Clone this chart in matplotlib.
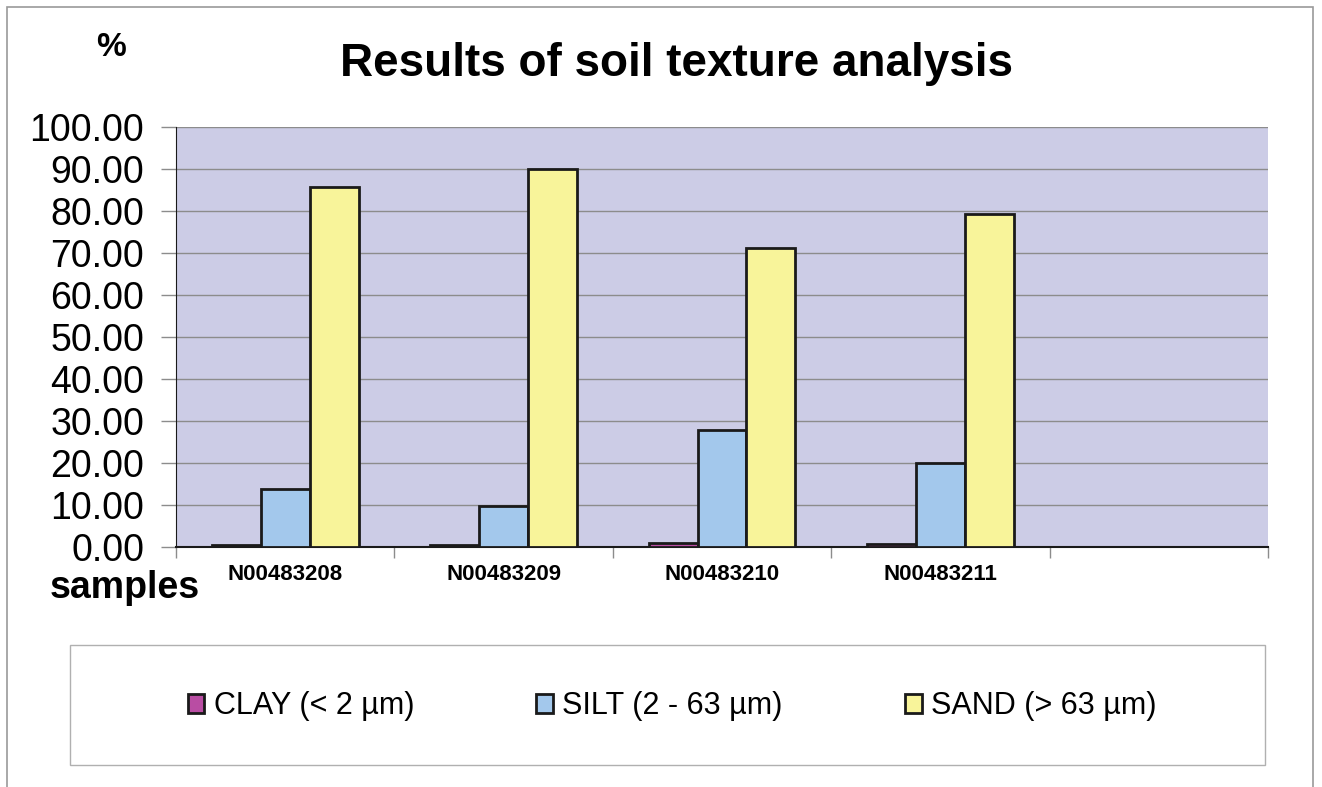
import matplotlib.pyplot as plt
from matplotlib.patches import Rectangle
import numpy as np

plt.rcParams['font.family'] = ['Liberation Sans', 'DejaVu Sans']

# data
samples = ['N00483208', 'N00483209', 'N00483210', 'N00483211', '']
clay = [0.5, 0.4, 1.0, 0.6]
silt = [13.9, 9.8, 27.8, 20.1]
sand = [85.6, 89.9, 71.1, 79.3]
series_names = ['CLAY (< 2 µm)', 'SILT (2 - 63 µm)', 'SAND (> 63 µm)']
series_colors = ['#B94DA3', '#A3C8EC', '#F8F49A']

W, H = 1322, 787
fig = plt.figure(figsize=(W / 100, H / 100), dpi=100)

# outer chart frame
fig.patches.append(Rectangle((7 / W, -0.05), 1306 / W, 1.05 - 7 / H,
                             transform=fig.transFigure, fill=False,
                             edgecolor='#9a9a9a', lw=1.2))
# legend frame
fig.patches.append(Rectangle((70 / W, 1 - 765 / H), 1195 / W, 120 / H,
                             transform=fig.transFigure, fill=False,
                             edgecolor='#b0b0b0', lw=1.0))

ax = fig.add_axes([176 / W, 1 - 547 / H, 1092 / W, 420 / H])
ax.set_facecolor('#CCCCE6')

n = len(clay)
x = np.arange(n) + 0.5
bw = 0.224
for vals, off, col, name in zip([clay, silt, sand], [-bw, 0, bw],
                                series_colors, series_names):
    ax.bar(x + off, vals, width=bw, color=col, edgecolor='#1a1a1a',
           linewidth=2, label=name, zorder=3)

ax.set_xlim(0, len(samples))
ax.set_ylim(0, 100)
ax.set_yticks(np.arange(0, 101, 10))
ax.set_yticklabels([f'{v:.2f}' for v in np.arange(0, 101, 10)], fontsize=27)
ax.yaxis.grid(True, color='#8c8c8c', lw=1.0, zorder=0)
ax.set_axisbelow(True)

ax.set_xticks(np.arange(0, len(samples) + 1))
ax.set_xticklabels([])
ax.set_xticks(np.arange(len(samples)) + 0.5, minor=True)
ax.set_xticklabels(samples, minor=True, fontsize=16, fontweight='bold')
ax.tick_params(axis='x', which='minor', length=0, pad=12)
ax.tick_params(axis='x', which='major', length=8, color='#8c8c8c', width=1)
ax.tick_params(axis='y', length=11, color='#8c8c8c', width=1, pad=12)

for s in ['top', 'right']:
    ax.spines[s].set_visible(False)
ax.spines['left'].set_color('#1a1a1a')
ax.spines['bottom'].set_color('#1a1a1a')
ax.spines['bottom'].set_linewidth(1.5)

fig.text(676 / W, 1 - 64 / H, 'Results of soil texture analysis',
         ha='center', va='center', fontsize=33, fontweight='bold')
fig.text(111 / W, 1 - 48 / H, '%', ha='center', va='center',
         fontsize=24, fontweight='bold')
fig.text(125 / W, 1 - 588 / H, 'samples', ha='center', va='center',
         fontsize=27, fontweight='bold')

handles, labels = ax.get_legend_handles_labels()
fig.legend(handles, labels, loc='center', bbox_to_anchor=(672 / W, 1 - 706 / H),
           ncol=3, frameon=False, fontsize=22, handlelength=0.55,
           handleheight=0.6, handletextpad=0.3, columnspacing=4.0)

fig.savefig('out.png', dpi=100)
